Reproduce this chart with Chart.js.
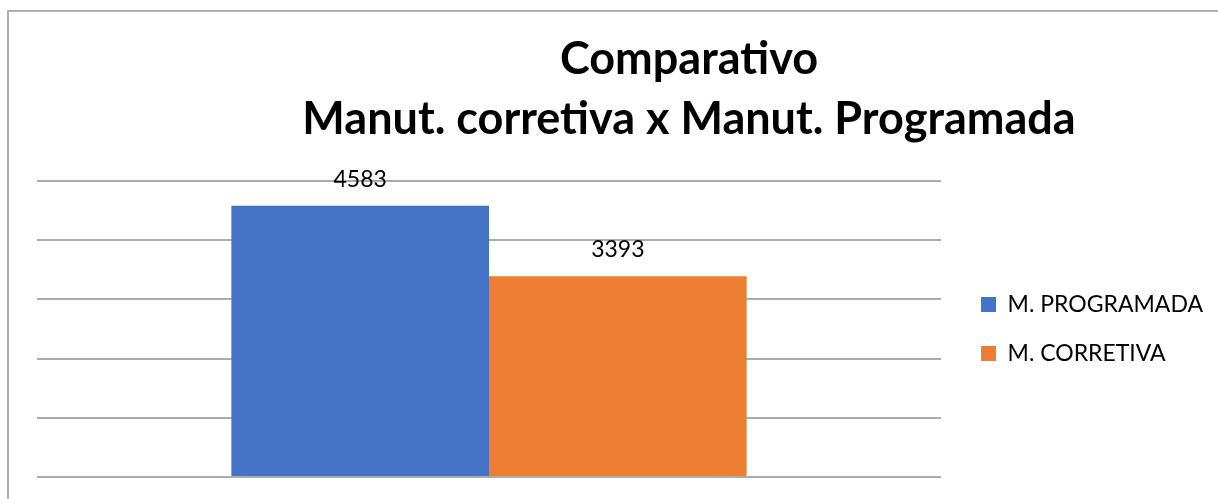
<!DOCTYPE html>
<html lang="pt">
<head>
  <meta charset="UTF-8" />
  <title>Comparativo</title>
  <script src="https://cdn.jsdelivr.net/npm/chart.js"></script>
  <style>
    body { margin: 0; background: #fff; font-family: 'Lato', sans-serif; }
    #frame {
      position: absolute; left: 7px; top: 10px; width: 1400px; height: 600px;
      border-left: 2px solid #b0b0b0; border-top: 2px solid #b0b0b0;
    }
    #wrap { position: absolute; left: 0; top: 0; width: 1218px; height: 499px; }
  </style>
</head>
<body>
  <div id="frame"></div>
  <div id="wrap"><canvas id="chart"></canvas></div>

  <script>
    // dados
    const categorias = [''];
    const programada = [4583];
    const corretiva = [3393];
    const tituloLinhas = ['Comparativo', 'Manut. corretiva x Manut. Programada'];

    // rótulos de valor acima das barras
    const valueLabels = {
      id: 'valueLabels',
      afterDatasetsDraw(chart) {
        const ctx = chart.ctx;
        ctx.save();
        ctx.font = '23px Lato';
        ctx.fillStyle = '#000';
        ctx.textAlign = 'center';
        ctx.textBaseline = 'alphabetic';
        chart.data.datasets.forEach((ds, i) => {
          chart.getDatasetMeta(i).data.forEach((bar, j) => {
            ctx.fillText(ds.data[j], bar.x, bar.y - 19);
          });
        });
        ctx.restore();
      }
    };

    // título em duas linhas (centrado como no original)
    const titulo = {
      id: 'titulo',
      afterLayout(chart) {
        // afasta um pouco a legenda da área do gráfico
        chart.legend.left += 14;
        chart.legend.right += 14;
      },
      afterDraw(chart) {
        const ctx = chart.ctx;
        ctx.save();
        ctx.font = 'bold 45px Lato';
        ctx.fillStyle = '#000';
        ctx.textAlign = 'center';
        ctx.fillText(tituloLinhas[0], 689, 74);
        ctx.fillText(tituloLinhas[1], 689, 134);
        ctx.restore();
      }
    };

    new Chart(document.getElementById('chart'), {
      type: 'bar',
      data: {
        labels: categorias,
        datasets: [
          { label: 'M. PROGRAMADA', data: programada, backgroundColor: '#4472C4' },
          { label: 'M. CORRETIVA', data: corretiva, backgroundColor: '#ED7D31' }
        ]
      },
      options: {
        responsive: true,
        maintainAspectRatio: false,
        animation: false,
        datasets: { bar: { barPercentage: 1, categoryPercentage: 0.57 } },
        layout: { padding: { left: 37, right: 19, top: 181, bottom: 22 } },
        plugins: {
          legend: {
            position: 'right',
            fullSize: false,
            labels: {
              boxWidth: 15, boxHeight: 15, padding: 26,
              color: '#000', font: { family: 'Lato', size: 23 }
            }
          },
          tooltip: { enabled: false }
        },
        scales: {
          x: { display: false },
          y: {
            min: 0, max: 5000,
            ticks: { display: false, stepSize: 1000 },
            border: { display: false },
            grid: { color: '#ababab', lineWidth: 2, drawTicks: false }
          }
        }
      },
      plugins: [valueLabels, titulo]
    });
  </script>
</body>
</html>
